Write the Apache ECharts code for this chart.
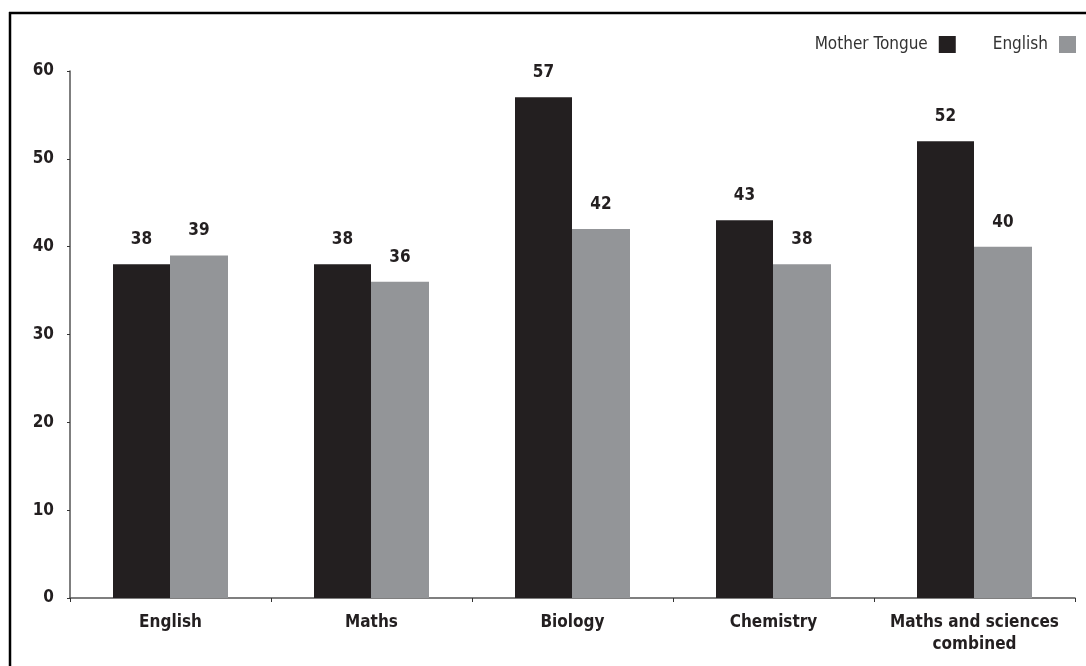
<!DOCTYPE html>
<html><head><meta charset="utf-8">
<script src="https://cdn.jsdelivr.net/npm/echarts@6/dist/echarts.min.js"></script>
<style>html,body{margin:0;padding:0;background:#fff}#c{width:1086px;height:666px}</style>
</head><body><div id="c"></div>
<script>
const categories = ['English', 'Maths', 'Biology', 'Chemistry', 'Maths and sciences\ncombined'];
const motherTongue = [38, 38, 57, 43, 52];
const english = [39, 36, 42, 38, 40];
const yTicks = [0, 10, 20, 30, 40, 50, 60];

const FONT = '"Liberation Sans Narrow", "DejaVu Sans Condensed", "Arial Narrow", sans-serif';
const chart = echarts.init(document.getElementById('c'));
chart.setOption({
  animation: false,
  backgroundColor: '#fff',
  textStyle: { fontFamily: FONT },
  graphic: [
    { type: 'line', shape: { x1: 9, y1: 13, x2: 1086, y2: 13 }, style: { stroke: '#000', lineWidth: 2.5 } },
    { type: 'line', shape: { x1: 10, y1: 12, x2: 10, y2: 666 }, style: { stroke: '#000', lineWidth: 2.5 } }
  ],
  legend: {
    right: 5, top: 31,
    align: 'right',
    itemWidth: 17, itemHeight: 17, itemGap: 37,
    icon: 'rect',
    textStyle: { fontFamily: FONT, fontSize: 17, color: '#333', padding: [0, 6, 0, 0] },
    data: ['Mother Tongue', 'English']
  },
  grid: { left: 70, right: 11, top: 71, bottom: 68, containLabel: false },
  xAxis: {
    type: 'category',
    data: categories,
    axisLine: { lineStyle: { color: '#555', width: 1.5 } },
    axisTick: { show: true, length: 4, lineStyle: { color: '#333' } },
    axisLabel: { interval: 0, color: '#231f20', fontWeight: 'bold', fontSize: 17, fontFamily: FONT, margin: 14, lineHeight: 22 }
  },
  yAxis: {
    type: 'value',
    min: yTicks[0], max: yTicks[yTicks.length - 1], interval: 10,
    axisLine: { show: true, lineStyle: { color: '#555', width: 1.5 } },
    axisTick: { show: true, length: 3, lineStyle: { color: '#333' } },
    splitLine: { show: false },
    axisLabel: { color: '#231f20', fontWeight: 'bold', fontSize: 17, fontFamily: FONT, margin: 16 }
  },
  series: [
    {
      name: 'Mother Tongue', type: 'bar', data: motherTongue,
      barWidth: 57, barGap: '0%',
      itemStyle: { color: '#231f20' },
      label: { show: true, position: 'top', distance: 16, color: '#231f20', fontWeight: 'bold', fontSize: 17, fontFamily: FONT }
    },
    {
      name: 'English', type: 'bar', data: english,
      barWidth: 58, barGap: '0%',
      itemStyle: { color: '#939598' },
      label: { show: true, position: 'top', distance: 16, color: '#231f20', fontWeight: 'bold', fontSize: 17, fontFamily: FONT }
    }
  ]
});
</script></body></html>
